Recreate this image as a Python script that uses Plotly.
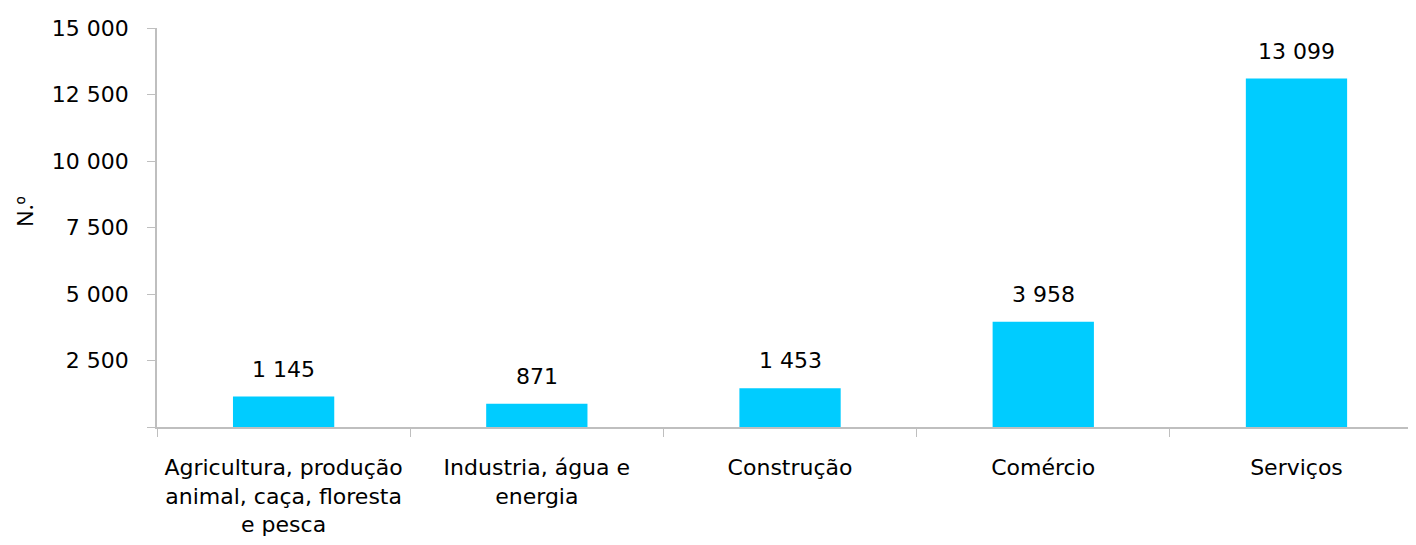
import plotly.graph_objects as go

CATEGORIES = [
    "Agricultura, produção<br>animal, caça, floresta<br>e pesca",
    "Industria, água e<br>energia",
    "Construção",
    "Comércio",
    "Serviços",
]
VALUES = [1145, 871, 1453, 3958, 13099]
Y_TICKS = [0, 2500, 5000, 7500, 10000, 12500, 15000]

BAR_COLOR = "#00CCFF"
AXIS_COLOR = "#BFBFBF"
FONT = dict(family="DejaVu Sans", size=22, color="#000000")


def fmt(v):
    return f"{v:,}".replace(",", " ")


fig = go.Figure(
    go.Bar(
        x=CATEGORIES,
        y=VALUES,
        marker_color=BAR_COLOR,
        marker_line_width=0,
        width=0.4,
    )
)

for cat, v in zip(CATEGORIES, VALUES):
    fig.add_annotation(
        x=cat, y=v, text=fmt(v), showarrow=False,
        yanchor="bottom", yshift=13, font=FONT,
    )

# axis title placed by hand (sits a bit above the plot middle)
fig.add_annotation(
    text="N.º", xref="paper", yref="paper", x=-0.106, y=0.54,
    xanchor="center", yanchor="middle",
    showarrow=False, textangle=-90,
    font=dict(family="Noto Sans", size=22, color="#000000"),
)

# page body has an 8px margin, so the figure is sized to end at the window edge
fig.update_layout(
    width=1408,
    height=537,
    margin=dict(l=149, r=0, t=20, b=118),
    paper_bgcolor="white",
    plot_bgcolor="white",
    font=FONT,
    showlegend=False,
    xaxis=dict(
        range=[-0.5, 4.472],
        showline=True,
        linecolor=AXIS_COLOR,
        linewidth=1.5,
        ticks="outside",
        tickson="boundaries",
        ticklen=8,
        tickcolor=AXIS_COLOR,
        showgrid=False,
        ticklabelstandoff=20,
        tickfont=FONT,
    ),
    yaxis=dict(
        range=[0, 15000],
        tickvals=Y_TICKS,
        ticktext=[fmt(t) if t else "" for t in Y_TICKS],
        showline=True,
        linecolor=AXIS_COLOR,
        linewidth=1.5,
        ticks="outside",
        ticklen=8,
        tickcolor=AXIS_COLOR,
        showgrid=False,
        zeroline=False,
        ticklabelstandoff=14,
        tickfont=FONT,
    ),
)

fig.write_html("out.html")
